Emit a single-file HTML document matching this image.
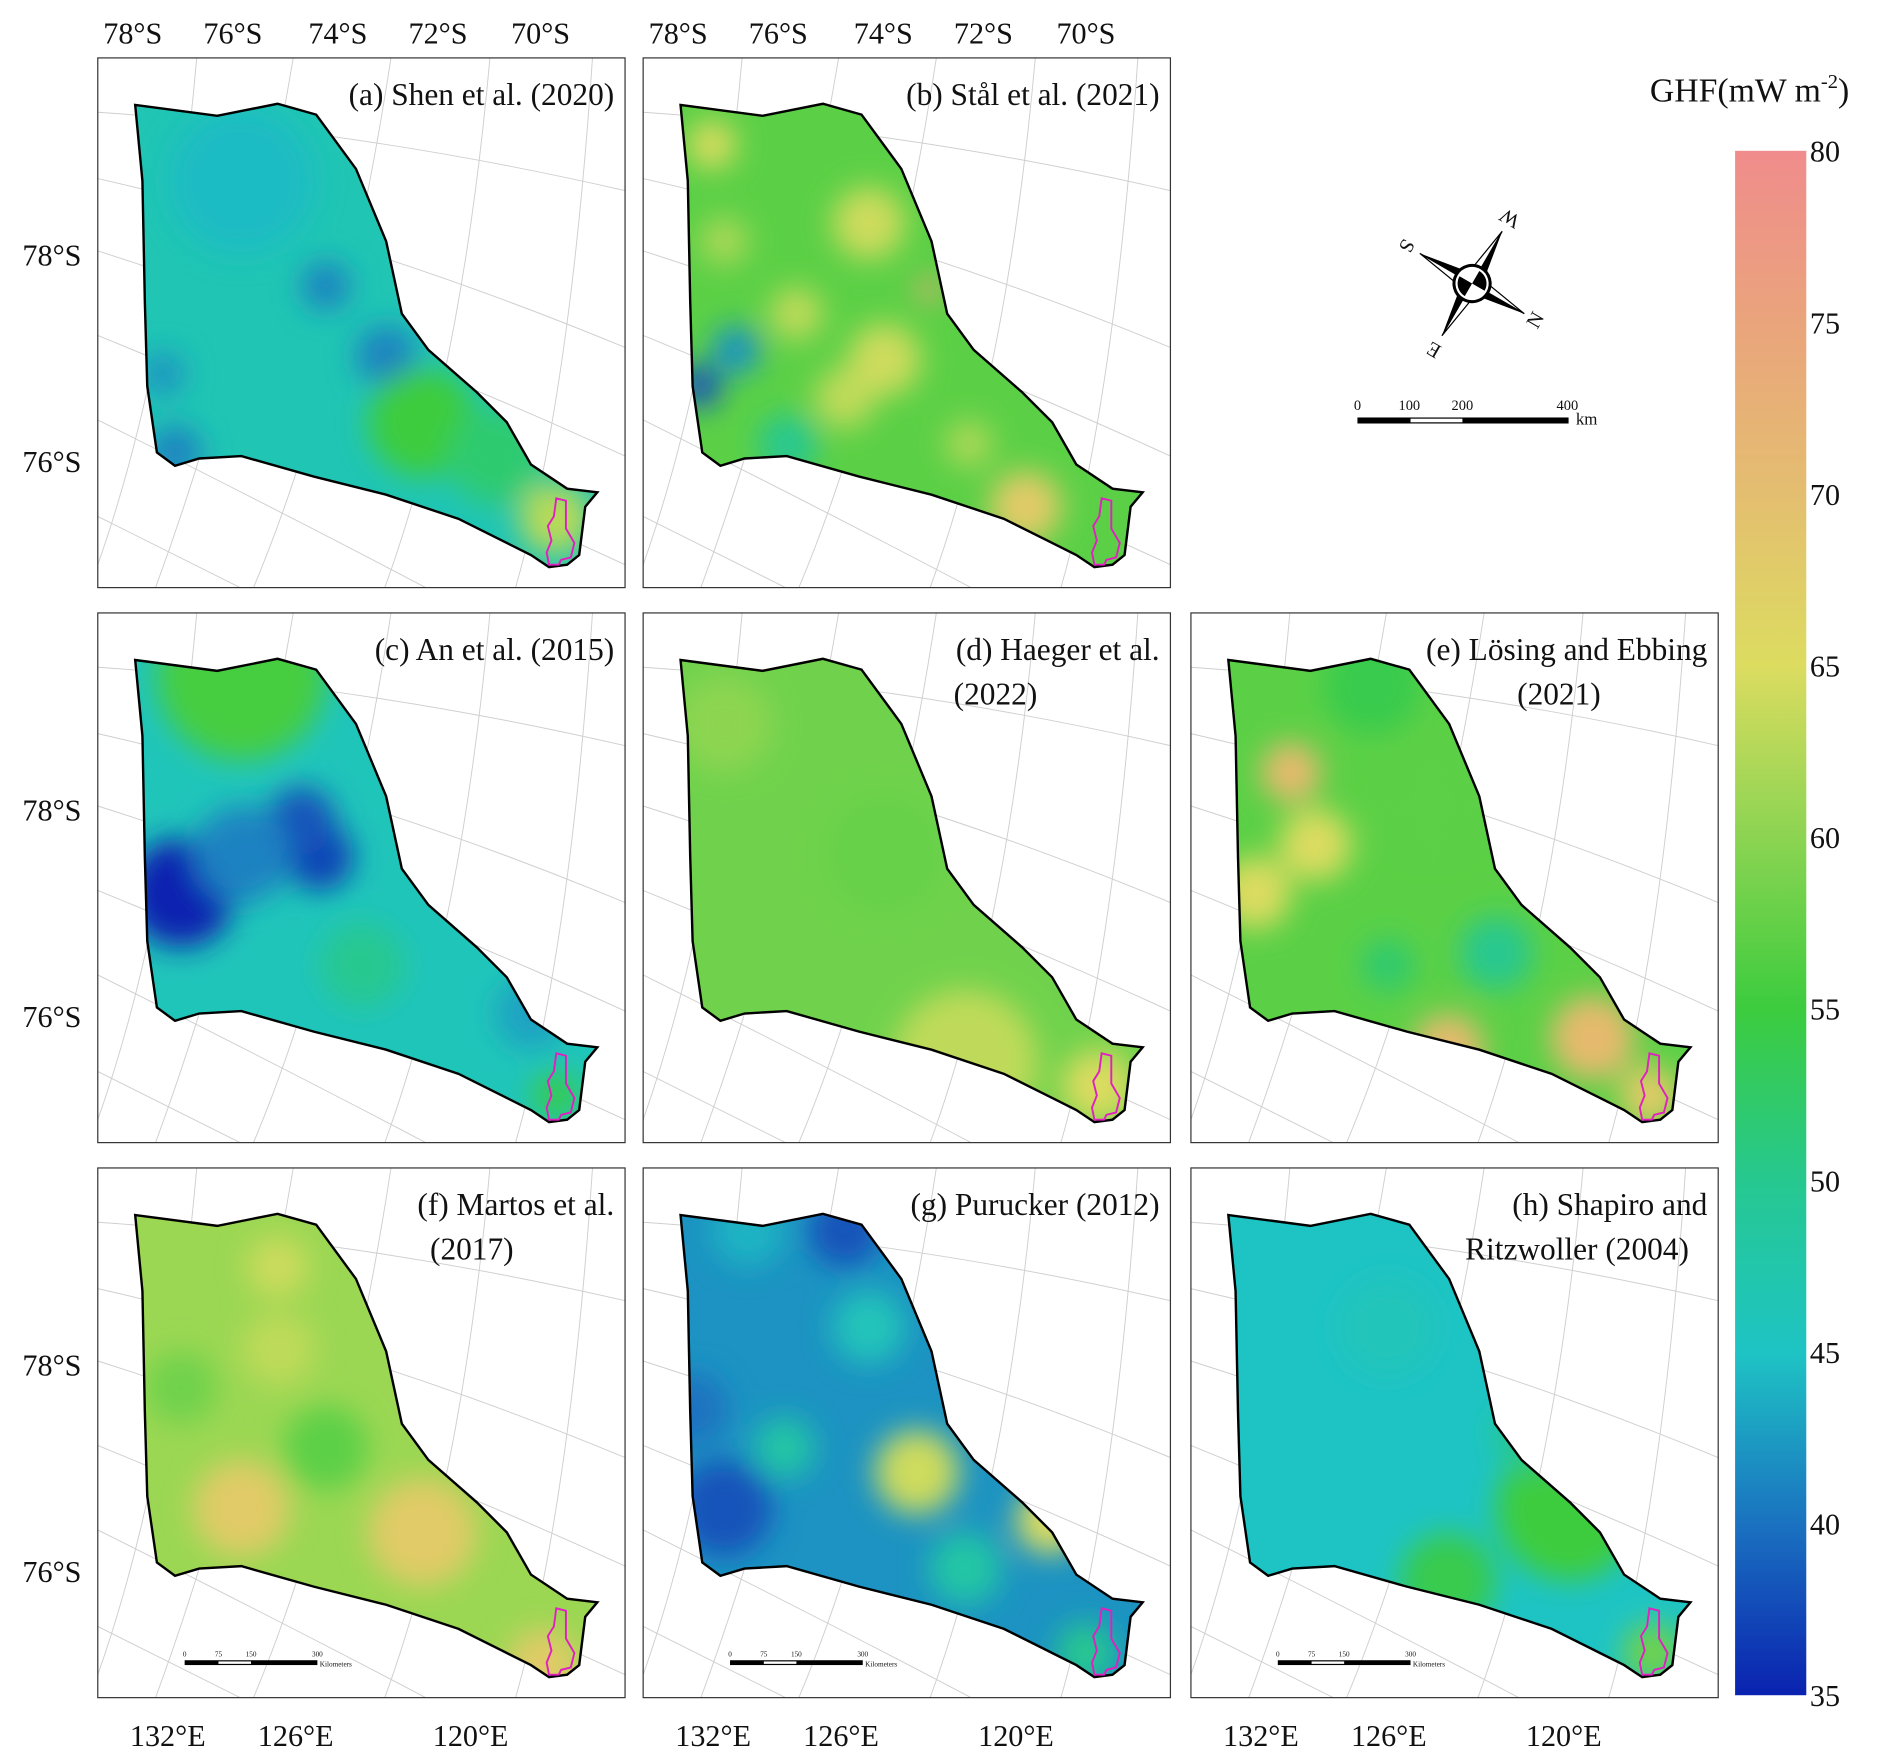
<!DOCTYPE html>
<html><head><meta charset="utf-8">
<style>
html,body{margin:0;padding:0;background:#fff;}
svg{display:block;}
text{font-family:"Liberation Serif",serif;fill:#111;}
</style></head>
<body>
<svg id="fig" width="1892" height="1764" viewBox="0 0 1568 1462" xmlns="http://www.w3.org/2000/svg" font-family="Liberation Serif, serif">
<defs>
<filter id="blur" x="-20%" y="-20%" width="140%" height="140%"><feGaussianBlur stdDeviation="12"/></filter>
<clipPath id="rectclip"><rect x="0" y="0" width="437" height="439"/></clipPath>
<linearGradient id="cbgrad" x1="0" y1="0" x2="0" y2="1">
<stop offset="0" stop-color="#f08c8c"/>
<stop offset="0.111" stop-color="#eaa47c"/>
<stop offset="0.222" stop-color="#e4be70"/>
<stop offset="0.333" stop-color="#dcdc60"/>
<stop offset="0.444" stop-color="#8cd452"/>
<stop offset="0.556" stop-color="#3ccc3e"/>
<stop offset="0.667" stop-color="#26c890"/>
<stop offset="0.778" stop-color="#1ec4c4"/>
<stop offset="0.889" stop-color="#1a72c0"/>
<stop offset="1" stop-color="#0a22b0"/>
</linearGradient>
</defs>
<g id="panels"></g>
<g id="extras"></g>
</svg>
<script>
// colour scale data
const cbTicks = [80,75,70,65,60,55,50,45,40,35];
const cmapVals = [35,40,45,50,55,60,65,70,75,80];
const cmapCols = ["#0a22b0","#1a72c0","#1ec4c4","#26c890","#3ccc3e","#70d24c","#b8da58","#dcdc60","#e8b272","#f08c8c"];

// panel data
const panelIds = ["a","b","c","d","e","f","g","h"];
const panelTitles = [["(a) Shen et al. (2020)"],["(b) Stål et al. (2021)"],["(c) An et al. (2015)"],["(d) Haeger et al.","(2022)"],["(e) Lösing and Ebbing","(2021)"],["(f) Martos et al.","(2017)"],["(g) Purucker (2012)"],["(h) Shapiro and","Ritzwoller (2004)"]];
const panelBase = [46.5,58,46,60,58,63,42,45];
// blobs: [x, y, radius, value] in panel-local units
const blobsA = [[119,102,60,44.5],[189,189,20,41],[239,247,25,41],[64,327,22,41],[54,262,18,42],[269,302,45,55],[379,382,30,65],[330,330,40,52]];
const blobsB = [[57,72,20,70],[187,137,30,68],[127,212,22,66],[237,192,10,76],[47,272,18,38],[77,242,20,42],[317,372,30,72],[167,282,25,66],[67,152,20,64],[200,250,30,68],[120,320,25,50],[270,320,20,64]];
const blobsC = [[69,232,45,35],[184,202,28,37],[169,172,28,38],[119,52,70,56],[219,292,35,50],[359,332,30,43],[120,200,40,41],[380,400,20,54]];
const blobsD = [[267,372,60,66],[377,392,30,70],[67,92,40,62],[200,200,50,59]];
const blobsE = [[83,132,25,74],[53,232,30,70],[103,192,30,70],[213,362,30,74],[333,352,35,74],[163,292,22,52],[253,282,30,50],[150,60,40,54],[200,160,40,58],[380,400,25,72]];
const blobsF = [[149,82,25,68],[119,282,40,72],[269,302,45,72],[369,412,30,72],[189,232,35,58],[69,182,30,60],[150,150,30,66]];
const blobsG = [[87,52,30,44],[167,52,30,38],[67,282,40,38],[227,252,35,68],[337,292,28,70],[117,232,25,48],[267,332,30,48],[367,402,25,50],[187,132,30,46],[40,200,30,40]];
const blobsH = [[313,282,60,55],[213,342,40,54],[383,402,25,60],[163,132,40,46],[280,220,30,50]];
const panelBlobs = [blobsA,blobsB,blobsC,blobsD,blobsE,blobsF,blobsG,blobsH];

const panelPos = [[81,48],[533,48],[81,508],[533,508],[987,508],[81,968],[533,968],[987,968]];
const outline = [[31,39],[99,48],[149,38],[181,47],[214,92],[239,152],[252,212],[274,242],[314,277],[339,302],[359,337],[389,357],[414,360],[404,372],[399,412],[389,420],[374,422],[359,412],[339,402],[299,382],[239,362],[179,347],[119,330],[84,332],[64,338],[49,327],[41,272],[39,202],[37,102]];
const lake = [[380,365],[388,367],[388,390],[395,402],[392,414],[384,416],[382,420],[374,420],[372,410],[376,400],[373,388],[378,380]];

const latTop = ["78°S","76°S","74°S","72°S","70°S"];
const lonBottom = ["132°E","126°E","120°E"];

const NS = "http://www.w3.org/2000/svg";
const SERIF = "Liberation Serif, serif";
function mk(tag, attrs, parent){const e=document.createElementNS(NS,tag);for(const k in attrs)e.setAttribute(k,attrs[k]);if(tag==="text"&&!attrs["font-family"])e.setAttribute("font-family",SERIF);if(parent)parent.appendChild(e);return e;}
function colorOf(v){
  if(v<=cmapVals[0])return cmapCols[0];
  for(let i=1;i<cmapVals.length;i++){if(v<=cmapVals[i]){const t=(v-cmapVals[i-1])/(cmapVals[i]-cmapVals[i-1]);return mix(cmapCols[i-1],cmapCols[i],t);}}
  return cmapCols[cmapCols.length-1];
}
function mix(a,b,t){const pa=[1,3,5].map(i=>parseInt(a.substr(i,2),16)),pb=[1,3,5].map(i=>parseInt(b.substr(i,2),16));return "rgb("+pa.map((x,i)=>Math.round(x+(pb[i]-x)*t)).join(",")+")";}
const ptsStr = p=>p.map(q=>q.join(",")).join(" ");

const root=document.getElementById("panels");
panelIds.forEach((id,i)=>{
  const [px,py]=panelPos[i];
  const g=mk("g",{transform:`translate(${px},${py})`},root);
  
  
  const cp=mk("clipPath",{id:"clip"+id},g);
  mk("polygon",{points:ptsStr(outline)},cp);
  const grid=mk("g",{"clip-path":"url(#rectclip)",stroke:"#cfcfcf","stroke-width":"0.8",fill:"none"},g);
  
  
  [[0,45,220,60,437,110],[0,100,220,150,437,240],[0,160,220,230,437,330],[0,230,220,320,437,420],[0,300,200,400,330,470],[0,380,120,440,200,480]].forEach(c=>mk("path",{d:`M${c[0]},${c[1]} Q${c[2]},${c[3]} ${c[4]},${c[5]}`},grid));
  [[82,0,60,250,0,420],[162,0,120,250,40,460],[243,0,200,280,120,460],[325,0,300,280,230,460],[410,0,390,300,340,460]].forEach(c=>mk("path",{d:`M${c[0]},${c[1]} Q${c[2]},${c[3]} ${c[4]},${c[5]}`},grid));
  const f=mk("g",{"clip-path":`url(#clip${id})`},g);
  
  
  mk("rect",{x:0,y:0,width:437,height:439,fill:colorOf(panelBase[i])},f);
  const bl=mk("g",{filter:"url(#blur)"},f);
  panelBlobs[i].forEach(b=>{
    const c=mk("circle",{cx:b[0],cy:b[1],r:b[2],fill:colorOf(b[3])},bl);
    
    
  });
  const ol=mk("polygon",{points:ptsStr(outline),fill:"none",stroke:"#000","stroke-width":"2"},g);
  
  
  const lk=mk("polygon",{points:ptsStr(lake),fill:"none",stroke:"#e020c0","stroke-width":"1.6"},g);
  
  
  const fr=mk("rect",{x:0,y:0,width:437,height:439,fill:"none",stroke:"#333","stroke-width":"1"},g);
  
  
  const lines=panelTitles[i];
  lines.forEach((ln,k)=>{
    const t=mk("text",{x:428,y:39+k*37,"font-size":"26","text-anchor":"end"},g);
    if(lines.length>1&&k===1){
      t.setAttribute("text-anchor","middle");
      t.setAttribute("x", id==="h"?320:(id==="e"?305:(id==="d"?292:310)));
    }
    t.textContent=ln;
    
    
  });
  if(i>=5){
    const sb=mk("g",{transform:"translate(72,408)"},g);
    
    
    mk("rect",{x:0,y:0,width:110,height:4,fill:"#000"},sb);
    mk("rect",{x:28,y:1,width:27,height:2,fill:"#fff"},sb);
    [["0",0],["75",28],["150",55],["300",110]].forEach(a=>{const t=mk("text",{x:a[1],y:-3,"font-size":"6","text-anchor":"middle","font-family":"Liberation Sans, sans-serif"},sb);t.textContent=a[0];});
    const kt=mk("text",{x:112,y:5,"font-size":"6","font-family":"Liberation Sans, sans-serif"},sb);kt.textContent="Kilometers";
  }
});

const ex=document.getElementById("extras");
[81,533].forEach(x0=>{
  [29,112,199,282,367].forEach((dx,k)=>{
    const t=mk("text",{x:x0+dx,y:36,"font-size":"25","text-anchor":"middle"},ex);
    t.textContent=latTop[k];
    
    
  });
});
[48,508,968].forEach(y0=>{
  [[172,"78°S"],[343,"76°S"]].forEach(a=>{
    const t=mk("text",{x:43,y:y0+a[0],"font-size":"25","text-anchor":"middle"},ex);
    t.textContent=a[1];
    
    
  });
});
[81,533,987].forEach(x0=>{
  [58,164,309].forEach((dx,k)=>{
    const t=mk("text",{x:x0+dx,y:1447,"font-size":"25","text-anchor":"middle"},ex);
    t.textContent=lonBottom[k];
    
    
  });
});
const cbTop=125, cbBot=1405;
function cbY(v){return cbTop+(80-v)/(80-35)*(cbBot-cbTop);}
const cb=mk("rect",{x:1438,y:cbTop,width:59,height:cbBot-cbTop,fill:"url(#cbgrad)"},ex);


cbTicks.forEach(v=>{
  const t=mk("text",{x:1500,y:cbY(v)+9,"font-size":"25"},ex);
  t.textContent=v;
  
  
});
const ct=mk("text",{x:1450,y:84,"font-size":"28","text-anchor":"middle"},ex);
ct.innerHTML='GHF(mW m<tspan font-size="17" dy="-11">-2</tspan><tspan dy="11">)</tspan>';


</script>
<svg style="position:absolute;left:0;top:0" width="1892" height="1764" viewBox="0 0 1568 1462" font-family="Liberation Serif, serif">
<g transform="translate(1220,235) rotate(30)">
<polygon points="0,-50 7,-7 0,0" fill="#000"/><polygon points="0,-50 -7,-7 0,0" fill="#fff" stroke="#000" stroke-width="1"/>
<polygon points="50,0 7,7 0,0" fill="#000"/><polygon points="50,0 7,-7 0,0" fill="#fff" stroke="#000" stroke-width="1"/>
<polygon points="0,50 -7,7 0,0" fill="#000"/><polygon points="0,50 7,7 0,0" fill="#fff" stroke="#000" stroke-width="1"/>
<polygon points="-50,0 -7,-7 0,0" fill="#000"/><polygon points="-50,0 -7,7 0,0" fill="#fff" stroke="#000" stroke-width="1"/>
<circle r="15" fill="#fff" stroke="#000" stroke-width="2.5"/>
<path d="M0,0 L0,-12 A12,12 0 0 1 12,0 Z M0,0 L0,12 A12,12 0 0 1 -12,0 Z" fill="#000"/>
<text x="0" y="-56" font-size="17" text-anchor="middle" transform="rotate(180 0 -62)">W</text>
<text x="60" y="6" font-size="17" text-anchor="middle" transform="rotate(-90 60 0)">N</text>
<text x="0" y="70" font-size="17" text-anchor="middle" transform="rotate(180 0 64)">E</text>
<text x="-62" y="6" font-size="17" text-anchor="middle" transform="rotate(90 -62 0)">S</text>
</g>
<g>
<rect x="1125" y="346" width="175" height="5" fill="#000"/>
<rect x="1169" y="347" width="43" height="3" fill="#fff"/>
<text x="1125" y="340" font-size="12" text-anchor="middle" font-family="Liberation Sans, sans-serif">0</text>
<text x="1168" y="340" font-size="12" text-anchor="middle" font-family="Liberation Sans, sans-serif">100</text>
<text x="1212" y="340" font-size="12" text-anchor="middle" font-family="Liberation Sans, sans-serif">200</text>
<text x="1299" y="340" font-size="12" text-anchor="middle" font-family="Liberation Sans, sans-serif">400</text>
<text x="1306" y="352" font-size="14" font-family="Liberation Sans, sans-serif">km</text>
</g>
</svg>
</body></html>
